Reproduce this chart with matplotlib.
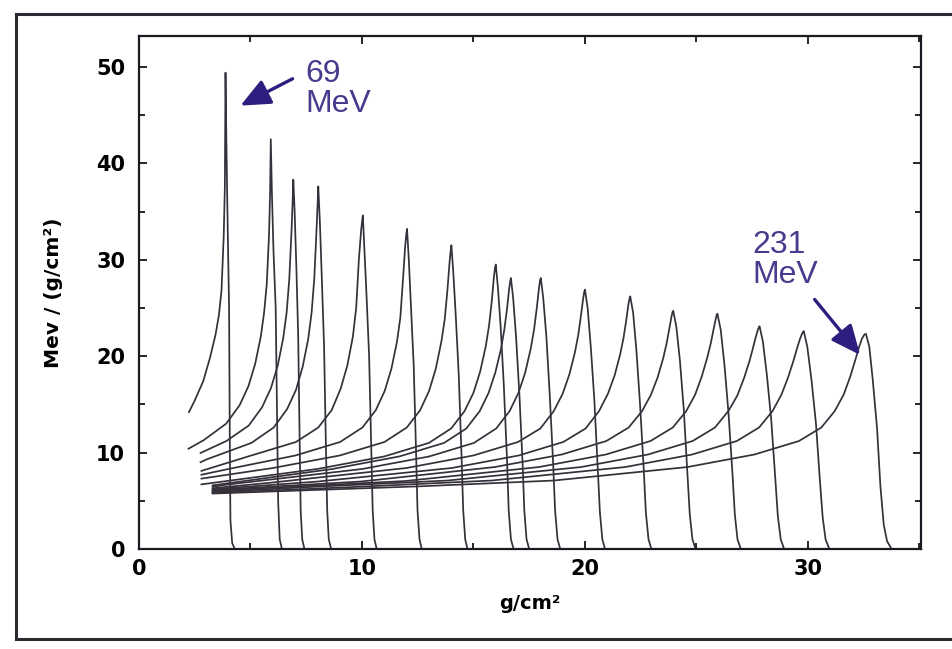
import matplotlib
matplotlib.use("Agg")
import matplotlib.pyplot as plt
from matplotlib.lines import Line2D

# Bragg curves (depth in g/cm2, dose in MeV/(g/cm2))
peak_depth = [3.88, 5.91, 6.92, 8.04, 10.04, 12.02, 14.01, 16.0, 16.68,
              18.02, 20.0, 22.03, 23.96, 25.94, 27.83, 29.81, 32.6]
peak_dose = [49.4, 42.5, 38.3, 37.6, 34.6, 33.2, 31.5, 29.5, 28.1,
             28.1, 26.9, 26.2, 24.7, 24.4, 23.1, 22.6, 22.3]
entry_depth = [2.24, 2.22, 2.76, 2.76, 2.8, 2.8, 2.8, 2.8, 3.3,
               3.3, 3.3, 3.3, 3.3, 3.3, 3.3, 3.3, 3.3]
entry_dose = [14.2, 10.4, 9.96, 9.0, 8.1, 7.7, 7.3, 6.7, 6.6,
              6.45, 6.3, 6.2, 6.1, 6.0, 5.9, 5.8, 5.75]

# dose on the rising side, at these distances before each peak
rise_offset = [20, 14, 8, 5, 3, 2, 1.4, 1.0, 0.7, 0.45, 0.3, 0.18, 0.08, 0.03]
N = None
rise_dose = [
    [N, N, N, N, N, N, 15.3, 17.4, 19.8, 22.2, 24.2, 26.8, 32.5, 37.5],
    [N, N, N, N, 11.3, 13.0, 14.9, 16.9, 19.2, 22.0, 24.5, 27.5, 32.5, 37.0],
    [N, N, N, N, 11.2, 12.8, 14.7, 16.7, 19.0, 21.9, 24.5, 28.0, 33.0, 36.0],
    [N, N, N, 9.3, 11.0, 12.6, 14.5, 16.5, 18.9, 21.8, 24.5, 28.0, 33.0, 35.8],
    [N, N, N, 9.7, 11.1, 12.6, 14.4, 16.6, 19.0, 22.0, 25.0, 30.0, 33.0, 34.1],
    [N, N, 8.3, 9.7, 11.1, 12.6, 14.4, 16.4, 18.7, 21.5, 24.0, 28.0, 31.5, 32.7],
    [N, N, 8.4, 9.7, 11.1, 12.6, 14.4, 16.4, 18.7, 21.5, 23.8, 26.8, 29.8, 31.0],
    [N, N, 8.3, 9.6, 11.0, 12.5, 14.3, 16.2, 18.4, 21.0, 23.2, 25.7, 28.3, 29.2],
    [N, N, 8.3, 9.6, 11.0, 12.5, 14.3, 16.2, 18.3, 20.7, 22.7, 24.8, 27.0, 27.8],
    [N, 6.7, 8.3, 9.6, 11.0, 12.5, 14.3, 16.2, 18.3, 20.8, 22.8, 25.0, 27.1, 27.9],
    [N, 6.9, 8.4, 9.7, 11.1, 12.5, 14.3, 16.1, 18.1, 20.4, 22.2, 24.2, 26.0, 26.7],
    [N, 7.0, 8.4, 9.7, 11.1, 12.5, 14.3, 16.1, 18.0, 20.2, 21.9, 23.7, 25.4, 26.0],
    [6.2, 7.0, 8.5, 9.8, 11.2, 12.6, 14.3, 16.0, 17.8, 19.8, 21.3, 22.8, 24.1, 24.6],
    [6.35, 7.05, 8.5, 9.8, 11.2, 12.6, 14.3, 16.0, 17.9, 19.9, 21.3, 22.7, 23.8, 24.3],
    [6.45, 7.1, 8.5, 9.8, 11.2, 12.6, 14.3, 15.9, 17.7, 19.5, 20.8, 21.9, 22.7, 23.0],
    [6.45, 7.1, 8.5, 9.8, 11.2, 12.6, 14.3, 16.0, 17.8, 19.6, 20.8, 21.7, 22.3, 22.5],
    [6.5, 7.1, 8.5, 9.8, 11.2, 12.6, 14.3, 16.0, 17.9, 19.8, 21.0, 21.8, 22.2, 22.3],
]

# distal fall-off: distances after each peak and the dose there
fall_offset = [
    [0.04, 0.1, 0.16, 0.19, 0.22, 0.3, 0.42],
    [0.05, 0.12, 0.22, 0.28, 0.33, 0.4, 0.5],
    [0.06, 0.14, 0.22, 0.28, 0.33, 0.4, 0.5],
    [0.07, 0.16, 0.26, 0.34, 0.4, 0.47, 0.58],
    [0.07, 0.17, 0.28, 0.37, 0.44, 0.52, 0.62],
    [0.08, 0.18, 0.3, 0.4, 0.47, 0.56, 0.66],
    [0.09, 0.2, 0.33, 0.45, 0.53, 0.62, 0.72],
    [0.1, 0.22, 0.36, 0.5, 0.58, 0.68, 0.8],
    [0.1, 0.23, 0.38, 0.52, 0.6, 0.7, 0.82],
    [0.11, 0.25, 0.4, 0.55, 0.64, 0.75, 0.87],
    [0.12, 0.26, 0.42, 0.57, 0.67, 0.78, 0.9],
    [0.13, 0.28, 0.44, 0.6, 0.7, 0.82, 0.95],
    [0.14, 0.3, 0.47, 0.63, 0.74, 0.86, 1.0],
    [0.15, 0.32, 0.5, 0.67, 0.78, 0.9, 1.05],
    [0.15, 0.33, 0.52, 0.7, 0.82, 0.95, 1.1],
    [0.16, 0.35, 0.55, 0.72, 0.85, 0.98, 1.15],
    [0.15, 0.3, 0.5, 0.65, 0.8, 0.95, 1.15],
]
fall_dose = [
    [42, 33, 25, 12, 3, 0.6, 0],
    [37, 31, 25, 14, 5, 1, 0],
    [35, 29, 22, 12, 4, 1, 0],
    [34, 28, 21, 11, 4, 1, 0],
    [31, 26, 20, 11, 4, 1, 0],
    [30, 25, 19, 10.5, 4, 1, 0],
    [28.5, 24, 18, 10, 4, 1, 0],
    [27, 23, 17, 9.5, 4, 1, 0],
    [26, 22, 16, 9, 4, 1, 0],
    [26, 22, 16, 9, 4, 1, 0],
    [25, 21, 15.5, 8.5, 3.8, 1, 0],
    [24.5, 20.5, 15, 8.5, 3.8, 1, 0],
    [23, 19.5, 14.5, 8, 3.6, 1, 0],
    [22.7, 19, 14, 8, 3.6, 1, 0],
    [21.5, 18, 13.5, 7.5, 3.4, 1, 0],
    [21, 17.5, 13, 7.3, 3.3, 1, 0],
    [21, 17.7, 12.5, 6.5, 2.5, 0.8, 0],
]

x_ticks = [0, 10, 20, 30]
y_ticks = [0, 10, 20, 30, 40, 50]

LINE = "#35303a"
PURPLE = "#4a3a8e"
ARROW = "#2c1f80"

fig = plt.figure(figsize=(9.53, 6.49), dpi=100)
ax = fig.add_axes([139 / 953, 100 / 649, 782 / 953, 513 / 649])

for i in range(len(peak_depth)):
    xs, ys = [entry_depth[i]], [entry_dose[i]]
    for d, v in zip(rise_offset, rise_dose[i]):
        if v is not None:
            xs.append(peak_depth[i] - d)
            ys.append(v)
    xs.append(peak_depth[i])
    ys.append(peak_dose[i])
    for d, v in zip(fall_offset[i], fall_dose[i]):
        xs.append(peak_depth[i] + d)
        ys.append(v)
    ax.plot(xs, ys, color=LINE, lw=1.25, solid_joinstyle="round")

ax.set_xlim(0, 35.07)
ax.set_ylim(0, 53.2)
ax.set_xticks(x_ticks)
ax.set_yticks(y_ticks)
ax.set_xticks([5, 15, 25, 35], minor=True)
ax.set_yticks([5, 15, 25, 35, 45], minor=True)
ax.tick_params(which="both", direction="in", top=True, right=True, width=1.2)
ax.tick_params(which="major", length=6)
ax.tick_params(which="minor", length=4)
ax.tick_params(axis="y", pad=10)
ax.tick_params(axis="x", pad=7)
for lab in ax.get_xticklabels() + ax.get_yticklabels():
    lab.set_fontfamily("DejaVu Sans")
    lab.set_fontweight("bold")
    lab.set_fontsize(15)
for s in ax.spines.values():
    s.set_linewidth(1.6)
    s.set_color("#1a1a22")

ax.set_xlabel("g/cm²", fontsize=14, fontweight="bold", labelpad=11)
ax.set_ylabel("Mev / (g/cm²)", fontsize=14.5, fontweight="bold", labelpad=24)

# energy labels
ax.text(7.44, 50.8, "69\nMeV", color=PURPLE, fontsize=23, family="Liberation Sans",
        ha="left", va="top", linespacing=1.0)
ax.annotate("", xy=(4.44, 45.85), xytext=(7.0, 48.9),
            arrowprops=dict(arrowstyle="-|>,head_length=0.9,head_width=0.4",
                            mutation_scale=20, lw=2.4, color=ARROW))
ax.text(27.53, 33.1, "231\nMeV", color=PURPLE, fontsize=23, family="Liberation Sans",
        ha="left", va="top", linespacing=1.0)
ax.annotate("", xy=(32.42, 19.9), xytext=(30.22, 26.1),
            arrowprops=dict(arrowstyle="-|>,head_length=0.9,head_width=0.4",
                            mutation_scale=20, lw=2.4, color=ARROW))

# outer frame of the scanned page
L, T, B = 16 / 953, 1 - 14 / 649, 1 - 639 / 649
for xd, yd in [([L, L], [B, T]), ([L, 1], [T, T]), ([L, 1], [B, B])]:
    fig.add_artist(Line2D(xd, yd, transform=fig.transFigure, color="#2a2a30", lw=2.2))

fig.savefig("out.png", dpi=100)
